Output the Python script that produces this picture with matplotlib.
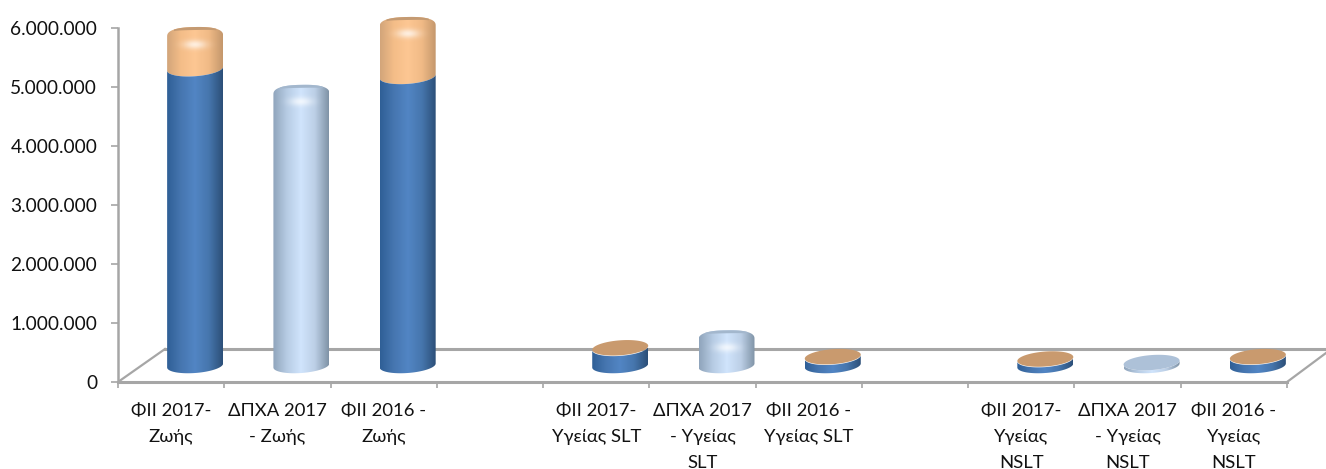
import matplotlib
matplotlib.use('Agg')
import matplotlib.pyplot as plt
import numpy as np
from matplotlib.colors import LinearSegmentedColormap
from matplotlib.patches import Polygon

plt.rcParams['font.family'] = ['Lato', 'Open Sans', 'DejaVu Sans']

categories = ['ΦΙΙ 2017-\nΖωής', 'ΔΠΧΑ 2017\n- Ζωής', 'ΦΙΙ 2016 -\nΖωής', '',
              'ΦΙΙ 2017-\nΥγείας SLT', 'ΔΠΧΑ 2017\n- Υγείας\nSLT', 'ΦΙΙ 2016 -\nΥγείας SLT', '',
              'ΦΙΙ 2017-\nΥγείας\nNSLT', 'ΔΠΧΑ 2017\n- Υγείας\nNSLT', 'ΦΙΙ 2016 -\nΥγείας\nNSLT']
blue_values = [5030000, 0, 4900000, 0, 290000, 0, 140000, 0, 100000, 0, 140000]
orange_values = [580000, 0, 880000, 0, 10000, 0, 10000, 0, 10000, 0, 10000]
light_values = [0, 4630000, 0, 0, 0, 470000, 0, 0, 0, 50000, 0]
y_ticks = [0, 1000000, 2000000, 3000000, 4000000, 5000000, 6000000]
y_labels = ['0', '1.000.000', '2.000.000', '3.000.000', '4.000.000', '5.000.000', '6.000.000']

# pixel scales of the plot, used for the fake 3D depth
PX_X = 106.3
PX_Y = 1000000 / 59
GRID = '#a6a6a6'

blue_cmap = LinearSegmentedColormap.from_list('b', ['#2f5f96', '#4676b0', '#5285c4', '#4676ad', '#2c4f78'])
orange_cmap = LinearSegmentedColormap.from_list('o', ['#d2a57a', '#f4bd88', '#fdc793', '#f0ba86', '#c4976c'])
light_cmap = LinearSegmentedColormap.from_list('l', ['#8fa4bb', '#b7cce4', '#d0e4fc', '#bccfe6', '#7f93a6'])


def rim(xc, y, t, round_cap=False):
    # point on the tilted elliptical rim of a cylinder
    # the rounded caps are a bit taller and have no tilt
    a = 28 / PX_X
    b = 9 * PX_Y if round_cap else 7.5 * PX_Y
    tilt = 0.5 * PX_Y if round_cap else 2 * PX_Y
    power = 0.8 if round_cap else 1.0
    c = np.cos(t)
    s = np.sin(t)
    cx = np.sign(c) * np.abs(c) ** power
    sy = np.sign(s) * np.abs(s) ** power
    return xc + a * cx, y + b * sy + tilt * cx


def gradient_band(ax, xc, y0, y1, cmap, round_top=False):
    # lower edge follows the front of the rim, upper edge front or back
    tb = np.linspace(np.pi, 2 * np.pi, 50)
    if round_top:
        xt, yt = rim(xc, y1 - 1.5 * PX_Y, np.linspace(0, np.pi, 60), round_cap=True)
    else:
        xt, yt = rim(xc, y1, np.linspace(2 * np.pi, np.pi, 50))
    xb, yb = rim(xc, y0, tb)
    pts = np.column_stack([np.r_[xb, xt], np.r_[yb, yt]])
    clip = Polygon(pts, transform=ax.transData)
    a = 28 / PX_X
    im = ax.imshow(np.linspace(0, 1, 256).reshape(1, -1), cmap=cmap, aspect='auto',
                   extent=[xc - a, xc + a, y0 - 12 * PX_Y, y1 + 12 * PX_Y], zorder=3)
    im.set_clip_path(clip)


def top_disc(ax, xc, y, color):
    t = np.linspace(0, 2 * np.pi, 80)
    xs, ys = rim(xc, y, t)
    ax.add_patch(Polygon(np.column_stack([xs, ys]), facecolor=color, edgecolor='none', zorder=4))


def back_rim(ax, xc, y, color):
    # thin darker strip along the back edge of a bevelled top
    t = np.linspace(0.25 * np.pi, 0.75 * np.pi, 40)
    xs, ys = rim(xc, y - 1.5 * PX_Y, t, round_cap=True)
    bottom = ys[::-1] - 3 * PX_Y * np.sin(t) ** 2
    ax.add_patch(Polygon(np.r_[np.column_stack([xs, ys]), np.column_stack([xs[::-1], bottom])],
                         facecolor=color, edgecolor='none', zorder=4))


def highlight(ax, xc, y):
    # soft white glow on the bevel of the taller bars
    gx, gy = np.meshgrid(np.linspace(-1, 1, 80), np.linspace(-1, 1, 40))
    glow = np.zeros((40, 80, 4))
    glow[..., :3] = 1.0
    glow[..., 3] = 0.7 * np.exp(-(gx ** 2 + gy ** 2) * 4.5)
    ax.imshow(glow, aspect='auto', zorder=5, interpolation='bilinear',
              extent=[xc - 24 / PX_X, xc + 24 / PX_X, y - 19 * PX_Y, y + 0 * PX_Y])


fig = plt.figure(figsize=(13.26, 4.69), dpi=100, facecolor='white')
ax = fig.add_axes([118 / 1326, (469 - 382) / 469, (1326 - 118) / 1326, 382 / 469])

base = 16.5 * PX_Y
shift_x = 24 / PX_X
for i in range(len(categories)):
    xc = i + shift_x
    if light_values[i] > 0:
        top = base + light_values[i]
        gradient_band(ax, xc, base, top, light_cmap, round_top=light_values[i] > 300000)
        if light_values[i] > 300000:
            back_rim(ax, xc, top, '#a3b7cd')
            highlight(ax, xc, top)
        else:
            top_disc(ax, xc, top, '#adc1d8')
    if blue_values[i] > 0:
        mid = base + blue_values[i]
        top = mid + orange_values[i]
        if blue_values[i] > 1000000:
            gradient_band(ax, xc, mid, top, orange_cmap, round_top=True)
        gradient_band(ax, xc, base, mid, blue_cmap)
        if blue_values[i] > 1000000:
            back_rim(ax, xc, top, '#c49a72')
            highlight(ax, xc, top)
        else:
            top_disc(ax, xc, top, '#c99a6e')

# floor of the 3D box
right_edge = 10.5 + 39 / PX_X
ax.plot([-0.5, -0.5 + 47 / PX_X], [0, 33 * PX_Y], color=GRID, lw=1.6, zorder=1)
ax.plot([10.5, right_edge], [0, 29 * PX_Y], color=GRID, lw=1.6, zorder=1, clip_on=False)
ax.plot([-0.5 + 47 / PX_X, right_edge], [33 * PX_Y, 33 * PX_Y], color=GRID, lw=2.2, zorder=1)
ax.plot([-0.5, 10.5], [0, 0], color=GRID, lw=2.2, zorder=2, clip_on=False)

ax.set_xlim(-0.5, right_edge)
ax.set_ylim(0, 382 * PX_Y)
ax.patch.set_visible(False)

for side in ['top', 'right', 'bottom']:
    ax.spines[side].set_visible(False)
ax.spines['left'].set_color(GRID)
ax.spines['left'].set_linewidth(1.8)
ax.spines['left'].set_bounds(0, 6000000)

ax.set_yticks(y_ticks)
ax.set_yticklabels(y_labels, fontsize=13.8, color='#111111')
ax.tick_params(axis='y', length=5, width=1.2, color=GRID, pad=10)

ax.set_xticks(np.arange(-0.5, 11, 1))
ax.set_xticklabels([])
ax.tick_params(axis='x', which='major', length=4.5, width=1.2, color=GRID)
ax.set_xticks(np.arange(len(categories)), minor=True)
ax.set_xticklabels(categories, minor=True, fontsize=13.3, color='#111111', linespacing=1.78)
ax.tick_params(axis='x', which='minor', length=0, pad=15)

plt.savefig('out.png', dpi=100, facecolor='white')
plt.close()
